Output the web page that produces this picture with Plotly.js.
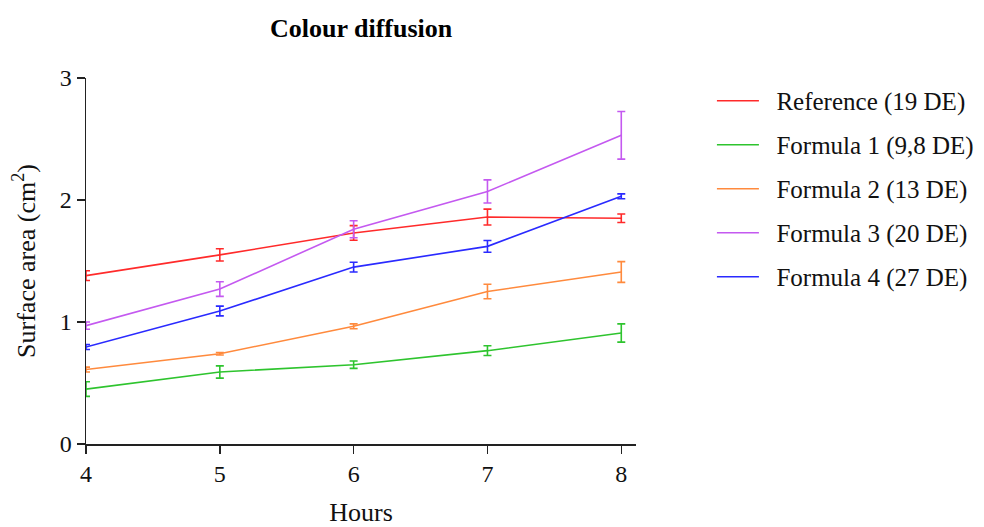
<!DOCTYPE html>
<html>
<head>
<meta charset="utf-8">
<script src="https://cdn.plot.ly/plotly-3.0.1.min.js"></script>
<style>
  html, body { margin: 0; padding: 0; background: #fff; }
  #chart { width: 984px; height: 527px; }
</style>
</head>
<body>
<div id="chart"></div>
<script>
// Hours of observation
const hours = [4, 5, 6, 7, 8];

// Series names (with colour difference in DE)
const seriesNames = [
  "Reference (19 DE)",
  "Formula 1 (9,8 DE)",
  "Formula 2 (13 DE)",
  "Formula 3 (20 DE)",
  "Formula 4 (27 DE)"
];

// Mean surface area (cm²)
const referenceMean = [1.38, 1.55, 1.73, 1.86, 1.85];
const formula1Mean  = [0.45, 0.59, 0.65, 0.765, 0.91];
const formula2Mean  = [0.61, 0.74, 0.965, 1.25, 1.41];
const formula3Mean  = [0.97, 1.27, 1.76, 2.07, 2.53];
const formula4Mean  = [0.795, 1.09, 1.45, 1.62, 2.03];

// Error (± SD)
const referenceErr = [0.04, 0.05, 0.06, 0.065, 0.035];
const formula1Err  = [0.06, 0.05, 0.03, 0.04, 0.075];
const formula2Err  = [0.02, 0.01, 0.02, 0.06, 0.085];
const formula3Err  = [0.03, 0.06, 0.07, 0.095, 0.195];
const formula4Err  = [0.02, 0.04, 0.04, 0.048, 0.02];

const seriesColors = ["#ff2a2a", "#2ec42e", "#ff8a3d", "#c459f0", "#2a2aff"];

const means = [referenceMean, formula1Mean, formula2Mean, formula3Mean, formula4Mean];
const errs  = [referenceErr, formula1Err, formula2Err, formula3Err, formula4Err];

// en space keeps a gap between the legend swatch and its label
const traces = means.map((m, i) => ({
  x: hours,
  y: m,
  name: "\u2002" + seriesNames[i],
  legendgroup: "g" + i,
  type: "scatter",
  mode: "lines",
  line: { color: seriesColors[i], width: 1.6 },
  error_y: {
    type: "data",
    array: errs[i],
    visible: true,
    color: seriesColors[i],
    thickness: 1.6,
    width: 4
  }
}));

const serif = "Liberation Serif, Times New Roman, serif";

const layout = {
  width: 984,
  height: 527,
  margin: { l: 86, r: 348, t: 78, b: 83, autoexpand: false },
  paper_bgcolor: "#fff",
  plot_bgcolor: "#fff",
  font: { family: serif, color: "#111", size: 24 },
  title: {
    text: "<b>Colour diffusion</b>",
    font: { family: serif, size: 26, color: "#000" },
    x: 0.367, xanchor: "center",
    y: 0.947, yanchor: "middle"
  },
  showlegend: true,
  legend: {
    xref: "container", yref: "container",
    x: 0.7235, xanchor: "left",
    y: 0.852, yanchor: "top",
    font: { family: serif, size: 25, color: "#111" },
    traceorder: "grouped",
    tracegroupgap: 8.5,
    itemwidth: 42,
    bgcolor: "rgba(0,0,0,0)"
  },
  xaxis: {
    range: [4, 8.11],
    tickvals: hours,
    ticktext: hours.map(String),
    showgrid: false,
    zeroline: false,
    showline: true,
    linecolor: "#222",
    linewidth: 1.5,
    ticks: "outside",
    ticklen: 8,
    tickwidth: 1.5,
    tickcolor: "#222",
    tickfont: { family: serif, size: 24, color: "#111" },
    title: { text: "Hours", font: { family: serif, size: 26, color: "#111" }, standoff: 20 }
  },
  yaxis: {
    range: [0, 3],
    tickvals: [0, 1, 2, 3],
    showgrid: false,
    zeroline: false,
    showline: true,
    linecolor: "#222",
    linewidth: 1.5,
    ticks: "outside",
    ticklen: 8,
    tickwidth: 1.5,
    tickcolor: "#222",
    tickfont: { family: serif, size: 24, color: "#111" },
    title: { text: "Surface area (cm<sup>2</sup>)", font: { family: serif, size: 26, color: "#111" }, standoff: 16 }
  }
};

Plotly.newPlot("chart", traces, layout, { displayModeBar: false, staticPlot: true });
</script>
</body>
</html>
